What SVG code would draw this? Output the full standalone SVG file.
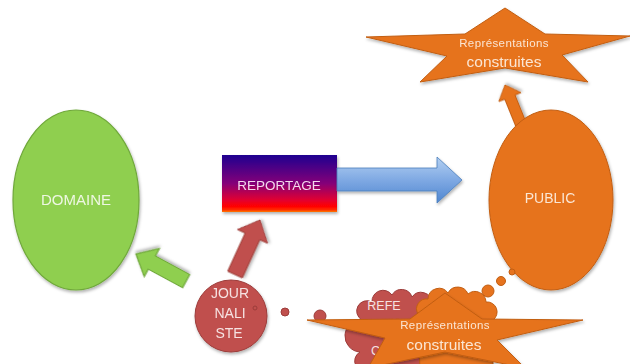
<svg xmlns="http://www.w3.org/2000/svg" width="630" height="364" viewBox="0 0 630 364">
<defs>
<filter id="sh" x="-10%" y="-10%" width="130%" height="130%">
<feDropShadow dx="1" dy="2" stdDeviation="1.5" flood-color="#000" flood-opacity="0.3"/>
</filter>
<linearGradient id="rep" x1="0" y1="0" x2="0" y2="1">
<stop offset="0" stop-color="#1E0090"/>
<stop offset="0.5" stop-color="#850078"/>
<stop offset="0.8" stop-color="#E5002E"/>
<stop offset="0.9" stop-color="#FF0000"/>
<stop offset="0.96" stop-color="#FF2A00"/>
<stop offset="1" stop-color="#FF7A00"/>
</linearGradient>
<linearGradient id="blue" x1="0" y1="0" x2="0" y2="1">
<stop offset="0" stop-color="#B3D0F2"/>
<stop offset="0.5" stop-color="#7FA9E3"/>
<stop offset="1" stop-color="#4F86D0"/>
</linearGradient>
<style>
.t{font-family:"Liberation Sans",Arial,sans-serif;text-anchor:middle}
.green{fill:#8FCF4F;stroke:#6FA83A;stroke-width:1.2}
.orange{fill:#E6731E;stroke:#C25E12;stroke-width:1}
.red{fill:#C0504D;stroke:#9C3C3A;stroke-width:1}
.light{fill:#FBE6D3}
</style>
</defs>
<rect width="630" height="364" fill="#FFFFFF"/>

<g id="connectors">
<path id="arrow-public-star" class="orange" filter="url(#sh)" d="M0,0 L-13,-12 L-13,-5.5 L-42,-5.5 L-42,5.5 L-13,5.5 L-13,12 Z" transform="translate(505,85) rotate(248)"/>
</g>

<g id="domaine" filter="url(#sh)">
<ellipse class="green" cx="76" cy="200" rx="63" ry="90"/>
<text class="t" x="76" y="205" font-size="15" fill="#EEF7E2">DOMAINE</text>
</g>

<g id="public" filter="url(#sh)">
<ellipse class="orange" cx="551" cy="200" rx="62" ry="90"/>
<text class="t" x="550" y="203" font-size="14" fill="#FBE6D3">PUBLIC</text>
</g>

<g id="star-top" filter="url(#sh)">
<polygon class="orange" points="505,8 545,34 630,36 562,55 588,82 505,68 420,82 447,56 366,37 465,34"/>
<text class="t light" x="504" y="47" font-size="11.5" letter-spacing="0.4">Représentations</text>
<text class="t light" x="504" y="67" font-size="15.5">construites</text>
</g>

<g id="reportage" filter="url(#sh)">
<rect x="222" y="155" width="115" height="57" fill="url(#rep)"/>
<text class="t" x="279" y="190" font-size="13.5" fill="#F4D8EC">REPORTAGE</text>
</g>

<g id="connectors-main">
<path id="arrow-reportage-public" filter="url(#sh)" fill="url(#blue)" stroke="#4A7EBB" stroke-width="0.8" d="M337,168 L437,168 L437,157 L462,180 L437,203 L437,191 L337,191 Z"/>
<path id="arrow-journaliste-reportage" class="red" filter="url(#sh)" d="M0,0 L-18,-16.5 L-18,-8 L-60,-8 L-60,8 L-18,8 L-18,16.5 Z" transform="translate(260,220) rotate(-65.4)"/>
<path id="arrow-journaliste-domaine" class="green" filter="url(#sh)" d="M0,0 L-18,-16 L-18,-7.5 L-57,-7.5 L-57,7.5 L-18,7.5 L-18,16 Z" transform="translate(136,254) rotate(208.4)"/>
</g>

<g id="journaliste" filter="url(#sh)">
<circle class="red" cx="231" cy="316" r="36"/>
<text class="t" x="230" y="298" font-size="14" fill="#F6E2E2">JOUR</text>
<text class="t" x="230" y="318" font-size="14" fill="#F6E2E2">NALI</text>
<text class="t" x="229" y="338" font-size="14" fill="#F6E2E2">STE</text>
</g>

<g id="bubble-dots">
<circle class="red" cx="255" cy="308" r="2"/>
<circle class="red" cx="285" cy="312" r="4"/>
<circle class="red" cx="320" cy="316" r="6"/>
<circle class="orange" cx="488" cy="291" r="6"/>
<circle class="orange" cx="501" cy="281" r="4.5"/>
<circle class="orange" cx="512" cy="272" r="3"/>
</g>

<g id="cloud-references">
<path class="red" d="M362,320 A10,10 0 0 1 372,302 A11,11 0 0 1 392,295 A11,11 0 0 1 412,297 A11,11 0 0 1 432,303 A12,12 0 0 1 440,322 L440,370 L370,370 A10,10 0 0 1 360,352 A10,10 0 0 1 362,320 Z"/>
<text class="t" x="384" y="310" font-size="12.5" fill="#F6E2E2">REFE</text>
<text x="371" y="355" font-size="12.5" fill="#F6E2E2" font-family="Liberation Sans, Arial, sans-serif">CE</text>
</g>

<g id="cloud-orange">
<path class="orange" d="M418,314 A10,10 0 0 1 428,299 A11,11 0 0 1 448,293 A11,11 0 0 1 468,294 A11,11 0 0 1 486,302 A10,10 0 0 1 493,320 L493,370 L420,370 Z"/>
</g>

<g id="star-bottom" filter="url(#sh)">
<polygon class="orange" points="445,293 482,319 583,320 497,340 525,368 445,352 368,368 385,338 307,320 410,319"/>
<text class="t light" x="445" y="329" font-size="11.5" letter-spacing="0.4">Représentations</text>
<text class="t light" x="444" y="350" font-size="15.5">construites</text>
</g>
</svg>
